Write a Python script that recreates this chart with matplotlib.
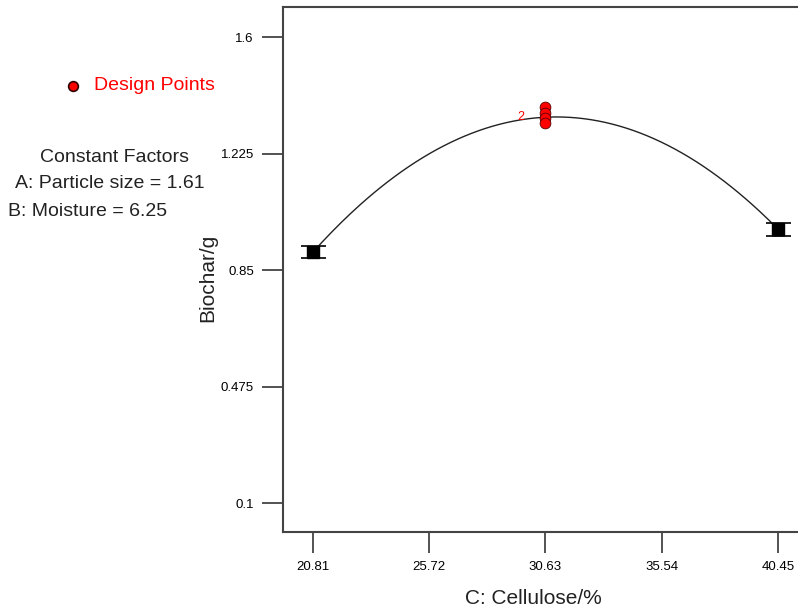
import matplotlib
matplotlib.use("Agg")
import matplotlib.pyplot as plt
import numpy as np

plt.rcParams['font.family'] = ['Liberation Sans', 'DejaVu Sans']

# model levels and predicted response (Biochar/g)
levels = [20.81, 30.63, 40.45]
predicted = [0.908, 1.342, 0.982]
err = [0.019, 0.0, 0.021]

# design points at the centre level
design_x = [30.63, 30.63, 30.63, 30.63]
design_y = [1.376, 1.357, 1.339, 1.324]

xticks = [20.81, 25.72, 30.63, 35.54, 40.45]
yticks = [0.1, 0.475, 0.85, 1.225, 1.6]
yticklabels = ["0.1", "0.475", "0.85", "1.225", "1.6"]

fig = plt.figure(figsize=(7.98, 6.12), dpi=100)
ax = fig.add_axes([0.3546, 0.1307, 0.66, 0.858])

coef = np.polyfit(levels, predicted, 2)
xs = np.linspace(levels[0], levels[-1], 200)
ax.plot(xs, np.polyval(coef, xs), color="#222222", lw=1.0)

# error bars at the outer levels
ax.errorbar([levels[0], levels[2]], [predicted[0], predicted[2]],
            yerr=[err[0], err[2]], fmt="s", color="black", ms=8,
            capsize=9, capthick=1.2, elinewidth=9)

ax.scatter(design_x, design_y, s=60, color="red", edgecolors="#550000",
           linewidths=0.6, zorder=5)
ax.text(29.6, 1.342, "2", color="red", fontsize=9, ha="center", va="center")

ax.set_xlim(19.543, 41.79)
ax.set_ylim(0.007, 1.697)
ax.set_xticks(xticks)
ax.set_xticklabels([f"{v:.2f}" for v in xticks])
ax.set_yticks(yticks)
ax.set_yticklabels(yticklabels)
ax.tick_params(direction="out", length=15, width=1.3, color="#444444",
               labelsize=9.5, pad=6)
for s in ["left", "bottom", "top"]:
    ax.spines[s].set_linewidth(1.5)
    ax.spines[s].set_color("#444444")
ax.spines["right"].set_visible(False)

fig.text(533 / 798, 1 - 599 / 612, "C: Cellulose/%", fontsize=15,
         ha="center", va="center", color="#222222")
fig.text(208 / 798, 1 - 278 / 612, "Biochar/g", fontsize=15, rotation=90,
         ha="center", va="center", color="#222222")

# legend / constant factors
fig.lines.append(plt.Line2D([73 / 798], [1 - 86 / 612], marker="o", ms=7,
                            color="red", mec="#330000", mew=1.2,
                            transform=fig.transFigure))
fig.text(94 / 798, 1 - 86 / 612, "Design Points", fontsize=14, color="red",
         ha="left", va="center")
fig.text(115 / 798, 1 - 158 / 612, "Constant Factors", fontsize=14,
         ha="center", va="center", color="#222222")
fig.text(15 / 798, 1 - 183 / 612, "A: Particle size = 1.61", fontsize=14,
         ha="left", va="center", color="#222222")
fig.text(8 / 798, 1 - 212 / 612, "B: Moisture = 6.25", fontsize=14,
         ha="left", va="center", color="#222222")

fig.savefig("out.png", dpi=100)
